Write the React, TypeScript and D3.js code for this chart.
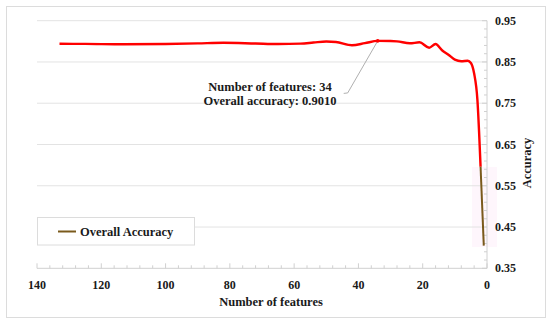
import React from "react";
import * as d3 from "d3";

// number of features (descending, as plotted right-to-left) and accuracy
const features = [133, 125, 113, 100, 90, 82, 72, 65, 58, 54, 50, 47, 42, 38, 34, 30, 28, 24, 21, 18, 16, 14, 12, 10, 8, 6, 5, 4, 3, 2];
const accuracy = [0.894, 0.8938, 0.8928, 0.8935, 0.895, 0.8966, 0.8948, 0.8935, 0.8945, 0.897, 0.8995, 0.8985, 0.8905, 0.8955, 0.901, 0.9008, 0.9, 0.8952, 0.8976, 0.8845, 0.8935, 0.8785, 0.8676, 0.8555, 0.8516, 0.853, 0.8475, 0.822, 0.76, 0.596];
// last drop drawn in the legend colour
const tailFeatures = [2, 1];
const tailAccuracy = [0.596, 0.405];

const xTicks = [140, 120, 100, 80, 60, 40, 20, 0];
const yTicks = [0.35, 0.45, 0.55, 0.65, 0.75, 0.85, 0.95];

const best = { n: 34, acc: 0.901 };

const W = 550;
const H = 323;
const FONT = "Liberation Serif";

const App = () => {
  const x = d3.scaleLinear().domain([140, 0]).range([37, 487]);
  const y = d3.scaleLinear().domain([0.35, 0.95]).range([268.3, 20.7]);

  const line = d3
    .line<[number, number]>()
    .x((d) => x(d[0]))
    .y((d) => y(d[1]))
    .curve(d3.curveMonotoneX);

  const mainPts = features.map((f, i) => [f, accuracy[i]] as [number, number]);
  const tailPts = tailFeatures.map((f, i) => [f, tailAccuracy[i]] as [number, number]);
  const tailLine = d3
    .line<[number, number]>()
    .x((d) => x(d[0]))
    .y((d) => y(d[1]));

  const xMinor = d3.range(0, 141, 4);
  const yMinor = d3.range(0, 31).map((i) => 0.35 + i * 0.02);

  const bx = x(best.n);
  const by = y(best.acc);
  const txt = { fontFamily: FONT, fontWeight: 700 } as React.CSSProperties;

  return (
    <svg
      width={W}
      height={H}
      style={{ position: "absolute", left: 0, top: 0, background: "#fff" }}
    >
      <rect x={0} y={0} width={W} height={H} fill="#fff" />
      <rect x={6.5} y={6.5} width={539} height={311} fill="#fff" stroke="#dcdcdc" strokeWidth={1} />

      {/* faint pink artefact */}
      <rect x={472} y={167} width={25} height={80} fill="#fef6fc" />

      {/* gridlines */}
      {yTicks.slice(1).map((t) => (
        <line key={t} x1={x(140)} x2={x(0)} y1={y(t)} y2={y(t)} stroke="#e3e3e3" strokeWidth={1} />
      ))}

      {/* x axis */}
      <line x1={x(140)} x2={x(0)} y1={y(0.35)} y2={y(0.35)} stroke="#d0d0d0" strokeWidth={1} />
      {xMinor.map((t) => (
        <line key={t} x1={x(t)} x2={x(t)} y1={y(0.35)} y2={y(0.35) - (t % 20 === 0 ? 5 : 3)} stroke="#d0d0d0" />
      ))}
      {xTicks.map((t) => (
        <text key={t} x={x(t)} y={289} textAnchor="middle" fontSize={12} fill="#1a1a1a" style={txt}>
          {t}
        </text>
      ))}
      <text x={271} y={306} textAnchor="middle" fontSize={12.5} fill="#1a1a1a" style={txt}>
        Number of features
      </text>

      {/* y axis (right) */}
      <line x1={x(0)} x2={x(0)} y1={y(0.35)} y2={y(0.95)} stroke="#d0d0d0" strokeWidth={1} />
      {yMinor.map((t, i) => (
        <line key={i} x1={x(0)} x2={x(0) - (i % 5 === 0 ? 5 : 3)} y1={y(t)} y2={y(t)} stroke="#d0d0d0" />
      ))}
      {yTicks.map((t) => (
        <text key={t} x={495} y={y(t) + 4} fontSize={12} fill="#1a1a1a" style={txt}>
          {t.toFixed(2)}
        </text>
      ))}
      <text
        transform={`translate(531, 163) rotate(-90)`}
        textAnchor="middle"
        fontSize={12.5}
        fill="#1a1a1a"
        style={txt}
      >
        Accuracy
      </text>

      {/* series */}
      <path d={line(mainPts) || ""} fill="none" stroke="#ff0000" strokeWidth={2.4} strokeLinejoin="round" />
      <path d={tailLine(tailPts) || ""} fill="none" stroke="#7a5a1c" strokeWidth={2} />

      {/* annotation */}
      <polyline
        points={`${bx},${by} ${bx - 30},${by + 52} ${bx - 34},${by + 52.5}`}
        fill="none"
        stroke="#a6a6a6"
        strokeWidth={0.9}
      />
      <circle cx={bx} cy={by} r={1.8} fill="#ff0000" />
      <text x={270} y={91} textAnchor="middle" fontSize={12.5} fill="#1a1a1a" style={txt}>
        Number of features: {best.n}
      </text>
      <text x={270} y={104.5} textAnchor="middle" fontSize={12.5} fill="#1a1a1a" style={txt}>
        Overall accuracy: {best.acc.toFixed(4)}
      </text>

      {/* legend */}
      <rect x={37.5} y={217.5} width={157} height={27.5} fill="#fff" stroke="#dcdcdc" strokeWidth={1} />
      <line x1={58} x2={76} y1={231.5} y2={231.5} stroke="#7a5a1c" strokeWidth={2} />
      <text x={80} y={236} fontSize={12.5} fill="#1a1a1a" style={txt}>
        Overall Accuracy
      </text>
    </svg>
  );
};

export default App;
